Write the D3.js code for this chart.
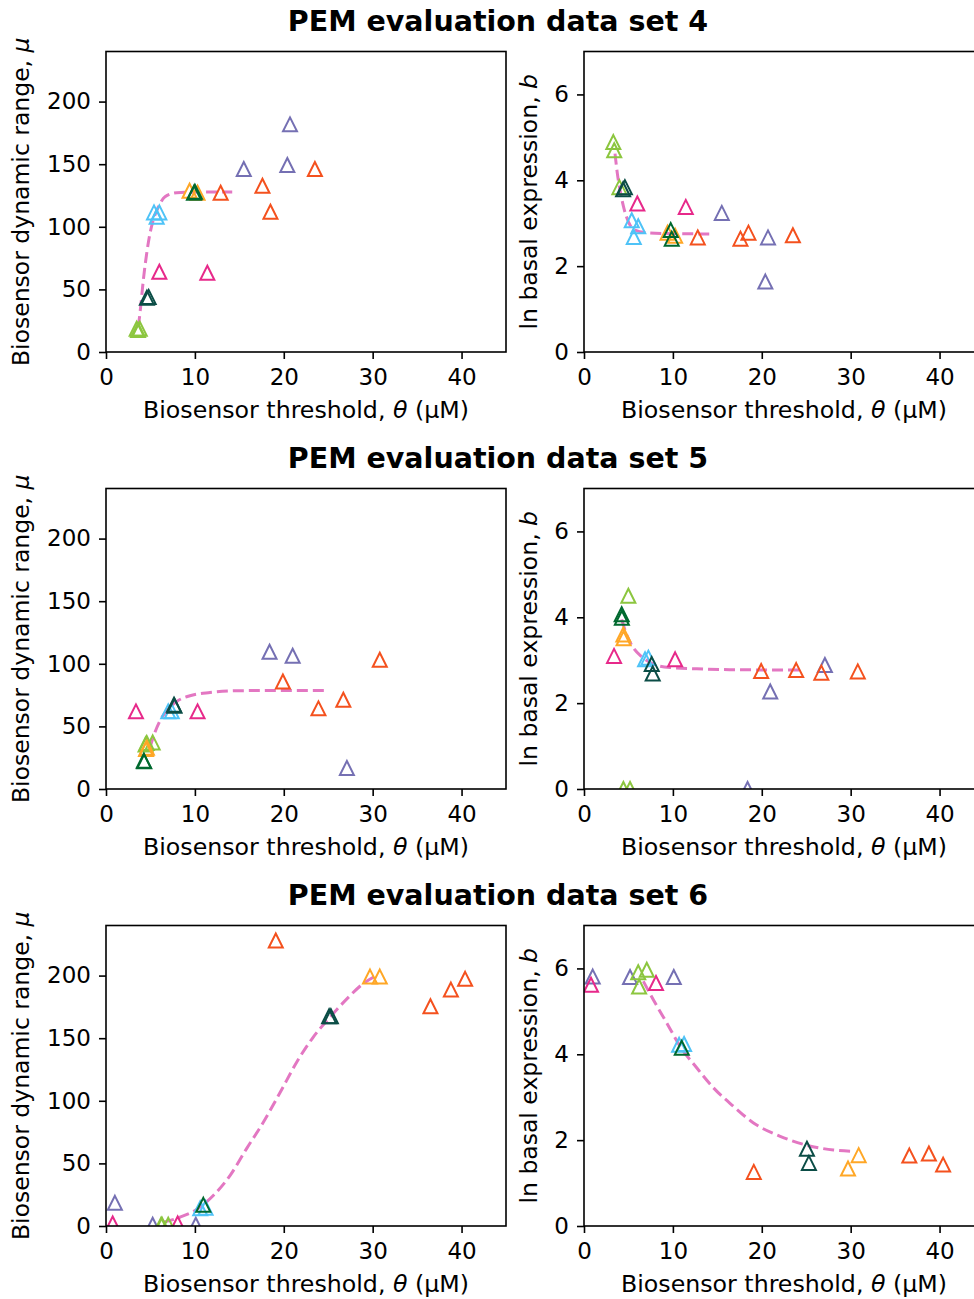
<!DOCTYPE html>
<html>
<head>
<meta charset="utf-8">
<script src="https://cdn.jsdelivr.net/npm/d3@7"></script>
<style>
  body { margin: 0; background: #fff; }
  svg text { font-family: "DejaVu Sans", sans-serif; fill: #000; }
</style>
</head>
<body>
<svg id="fig" width="974" height="1299"></svg>
<script>
// marker colours, index used in the point arrays below
var groupColors = ["#7570b3", "#f4511e", "#e7298a", "#8cc63f", "#4fc3f7", "#ffa726", "#00692f", "#0b4d46"];

var setTitles = ["PEM evaluation data set 4", "PEM evaluation data set 5", "PEM evaluation data set 6"];

var muTicks = [0, 50, 100, 150, 200];
var bTicks = [0, 2, 4, 6];
var thetaTicks = [0, 10, 20, 30, 40];

// [theta, mu, colour index]
var set4Mu = [
  [20.7, 181.8, 0], [20.4, 149.3, 0], [15.5, 146.1, 0],
  [23.5, 146.1, 1], [17.6, 132.8, 1], [18.5, 112.0, 1], [12.9, 127.2, 1],
  [6.0, 64.1, 2], [11.4, 63.3, 2],
  [3.45, 18.6, 3], [3.8, 18.6, 3], [3.6, 17.5, 3],
  [5.4, 111.5, 4], [6.0, 111.5, 4], [5.7, 108.0, 4],
  [9.4, 128.8, 5], [10.3, 127.2, 5],
  [9.9, 127.2, 6], [10.0, 128.0, 6],
  [4.6, 43.4, 7], [4.8, 44.0, 7]
];
// [theta, ln b, colour index]
var set4B = [
  [15.5, 3.24, 0], [20.7, 2.67, 0], [20.4, 1.64, 0],
  [12.8, 2.67, 1], [17.6, 2.64, 1], [18.5, 2.78, 1], [23.5, 2.72, 1],
  [6.0, 3.46, 2], [11.45, 3.38, 2],
  [3.3, 4.89, 3], [3.4, 4.70, 3], [3.98, 3.84, 3],
  [5.37, 3.07, 4], [6.1, 2.93, 4], [5.6, 2.68, 4],
  [9.4, 2.78, 5], [10.25, 2.71, 5],
  [9.76, 2.84, 6], [9.87, 2.64, 6],
  [4.6, 3.84, 7], [4.4, 3.79, 7]
];
var set5Mu = [
  [18.4, 109.6, 0], [21.0, 106.4, 0], [27.1, 16.8, 0],
  [30.8, 103.2, 1], [19.9, 85.9, 1], [23.9, 64.4, 1], [26.7, 71.3, 1],
  [3.37, 62.0, 2], [10.3, 62.0, 2],
  [4.58, 36.7, 3], [5.25, 37.2, 3], [4.45, 35.5, 3],
  [7.0, 62.0, 4], [7.4, 62.0, 4],
  [4.5, 31.9, 5], [4.6, 33.0, 5],
  [4.3, 22.1, 6], [4.25, 22.5, 6],
  [7.65, 67.3, 7], [7.7, 66.5, 7]
];
var set5B = [
  [18.4, 0.0, 0], [20.95, 2.27, 0], [27.1, 2.89, 0],
  [19.93, 2.75, 1], [23.87, 2.77, 1], [26.7, 2.71, 1], [30.8, 2.74, 1],
  [3.38, 3.10, 2], [10.25, 3.02, 2],
  [4.99, 4.50, 3], [4.43, 0.0, 3], [5.18, 0.0, 3],
  [6.87, 3.02, 4], [7.24, 3.06, 4],
  [4.43, 3.60, 5], [4.45, 3.51, 5],
  [4.24, 4.07, 6], [4.26, 3.99, 6],
  [7.62, 2.91, 7], [7.73, 2.69, 7]
];
var set6Mu = [
  [1.0, 18.5, 0], [5.25, 1.0, 0], [10.1, 1.0, 0],
  [19.1, 228.0, 1], [40.4, 197.4, 1], [38.8, 188.8, 1], [36.5, 175.5, 1],
  [0.75, 2.0, 2], [8.06, 2.0, 2],
  [6.2, 1.0, 3], [7.0, 1.0, 3], [6.3, 1.0, 3],
  [10.6, 14.2, 4], [11.2, 14.5, 4],
  [29.7, 199.2, 5], [30.8, 199.2, 5],
  [10.95, 16.9, 6],
  [25.1, 167.5, 7], [25.3, 167.5, 7]
];
var set6B = [
  [0.98, 5.81, 0], [5.18, 5.80, 0], [10.1, 5.80, 0],
  [19.1, 1.26, 1], [36.6, 1.64, 1], [38.8, 1.69, 1], [40.4, 1.43, 1],
  [0.79, 5.62, 2], [8.1, 5.66, 2],
  [6.1, 5.91, 3], [7.06, 5.97, 3], [6.2, 5.58, 3],
  [10.7, 4.22, 4], [11.26, 4.24, 4],
  [30.9, 1.65, 5], [29.7, 1.34, 5],
  [11.0, 4.15, 6],
  [25.08, 1.80, 7], [25.3, 1.47, 7]
];

// fitted curves
var set4MuFit = [[3.64, 20.2], [3.9, 36.2], [4.2, 57.5], [4.58, 78.8], [4.95, 94.8], [5.32, 105.4],
  [5.9, 116.0], [6.64, 124.0], [7.95, 127.2], [10.57, 127.7], [14.2, 127.7]];
var set4BFit = [[3.49, 4.62], [3.75, 4.16], [4.13, 3.69], [4.5, 3.34], [5.0, 3.03], [5.74, 2.84],
  [7.06, 2.78], [8.93, 2.76], [14.2, 2.75]];
var set5MuFit = [[4.95, 33.2], [5.5, 45.2], [6.07, 54.5], [6.83, 62.5], [7.95, 69.9], [9.45, 74.5],
  [11.7, 77.1], [15.07, 78.5], [19.9, 78.7], [24.6, 78.7]];
var set5BFit = [[4.24, 3.95], [4.8, 3.59], [5.55, 3.29], [6.5, 3.08], [7.8, 2.91], [9.68, 2.83],
  [12.7, 2.80], [16.4, 2.78], [24.6, 2.77]];
var set6MuFit = [[6.45, 3.0], [8.32, 7.0], [10.2, 13.2], [12.07, 24.4], [13.95, 40.3], [15.8, 61.6],
  [17.7, 82.9], [19.6, 106.8], [21.45, 130.8], [23.3, 150.7], [25.2, 166.7], [27.1, 181.4],
  [28.9, 193.4], [30.4, 200.0]];
var set6BFit = [[6.68, 5.70], [7.8, 5.27], [9.31, 4.73], [10.8, 4.19], [12.7, 3.68], [14.56, 3.22],
  [16.8, 2.79], [19.07, 2.40], [22.07, 2.09], [25.08, 1.88], [28.07, 1.77], [30.4, 1.74]];

var svg = d3.select("#fig");
var plotW = 400, plotH = 300.5;
var rowTops = [51.5, 488.5, 925.5];
var colLefts = [106, 584];

function panel(id, left, top, pts, fit, yMax, yTicks, yLabel, yItalic, yLabelX) {
  var x = d3.scaleLinear().domain([0, 45]).range([0, plotW]);
  var y = d3.scaleLinear().domain([0, yMax]).range([plotH, 0]);
  var g = svg.append("g").attr("transform", "translate(" + left + "," + top + ")");

  g.append("clipPath").attr("id", "clip" + id)
    .append("rect").attr("width", plotW).attr("height", plotH);

  var inner = g.append("g").attr("clip-path", "url(#clip" + id + ")");

  inner.append("path")
    .datum(fit)
    .attr("fill", "none")
    .attr("stroke", "#e377c2")
    .attr("stroke-width", 3)
    .attr("stroke-dasharray", "11,5")
    .attr("d", d3.line().x(function(d) { return x(d[0]); })
      .y(function(d) { return y(d[1]); })
      .curve(d3.curveMonotoneX));

  var s = 7;
  inner.selectAll("path.pt").data(pts).enter().append("path")
    .attr("class", "pt")
    .attr("transform", function(d) { return "translate(" + x(d[0]) + "," + y(d[1]) + ")"; })
    .attr("d", "M0," + (-s) + "L" + s + "," + s + "L" + (-s) + "," + s + "Z")
    .attr("fill", "none")
    .attr("stroke", function(d) { return groupColors[d[2]]; })
    .attr("stroke-width", 2);

  var xa = g.append("g").attr("transform", "translate(0," + plotH + ")")
    .call(d3.axisBottom(x).tickValues(thetaTicks).tickSize(7).tickPadding(10).tickFormat(d3.format("d")));
  var ya = g.append("g")
    .call(d3.axisLeft(y).tickValues(yTicks).tickSize(7).tickPadding(8).tickFormat(d3.format("d")));
  [xa, ya].forEach(function(a) {
    a.select(".domain").remove();
    a.selectAll(".tick line").attr("stroke", "#000").attr("stroke-width", 1.6);
    a.selectAll(".tick text").attr("font-size", 23).attr("font-family", "DejaVu Sans");
  });

  g.append("rect").attr("width", plotW).attr("height", plotH)
    .attr("fill", "none").attr("stroke", "#000").attr("stroke-width", 1.6);

  var xl = g.append("text")
    .attr("x", plotW / 2)
    .attr("y", plotH + 66)
    .attr("text-anchor", "middle")
    .attr("font-size", 23.7);
  xl.append("tspan").text("Biosensor threshold, ");
  xl.append("tspan").attr("font-style", "italic").text("θ");
  xl.append("tspan").text(" (µM)");

  var yl = g.append("text")
    .attr("transform", "translate(" + yLabelX + "," + (plotH / 2) + ") rotate(-90)")
    .attr("text-anchor", "middle")
    .attr("font-size", 23.5);
  yl.append("tspan").text(yLabel);
  yl.append("tspan").attr("font-style", "italic").text(yItalic);
}

var muSets = [set4Mu, set5Mu, set6Mu];
var bSets = [set4B, set5B, set6B];
var muFits = [set4MuFit, set5MuFit, set6MuFit];
var bFits = [set4BFit, set5BFit, set6BFit];

rowTops.forEach(function(top, i) {
  svg.append("text")
    .attr("x", 498)
    .attr("y", top - 20.5)
    .attr("text-anchor", "middle")
    .attr("font-size", 28.5)
    .attr("font-weight", "bold")
    .text(setTitles[i]);
  panel("mu" + i, colLefts[0], top, muSets[i], muFits[i], 240, muTicks, "Biosensor dynamic range, ", "μ", -77);
  panel("b" + i, colLefts[1], top, bSets[i], bFits[i], 7, bTicks, "ln basal expression, ", "b", -47);
});
</script>
</body>
</html>
